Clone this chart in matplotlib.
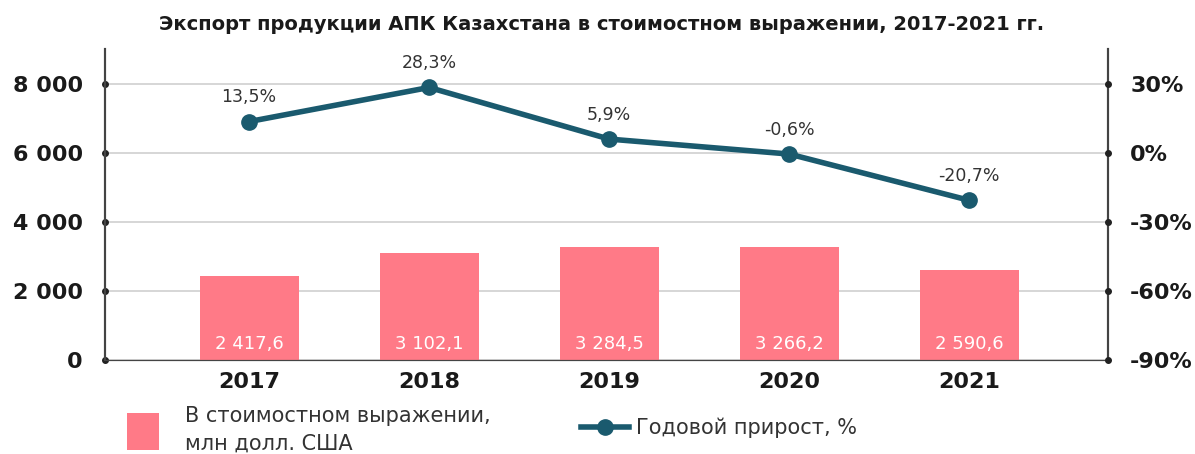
import matplotlib
matplotlib.use("Agg")
import matplotlib.pyplot as plt
from matplotlib.lines import Line2D
from matplotlib.patches import Patch

years = ["2017", "2018", "2019", "2020", "2021"]
export_values = [2417.6, 3102.1, 3284.5, 3266.2, 2590.6]
growth_pct = [13.5, 28.3, 5.9, -0.6, -20.7]
left_ticks = [0, 2000, 4000, 6000, 8000]
left_tick_labels = ["0", "2 000", "4 000", "6 000", "8 000"]
right_ticks = [-90, -60, -30, 0, 30]
right_tick_labels = ["-90%", "-60%", "-30%", "0%", "30%"]

BAR_C = "#FF7A87"
LINE_C = "#1A5A6E"
FONT = ["DejaVu Sans"]
plt.rcParams["font.family"] = FONT

def fmt_val(v):
    s = f"{v:,.1f}".replace(",", " ").replace(".", ",")
    return s

fig = plt.figure(figsize=(11.95, 4.54), dpi=100)
ax = fig.add_axes([105/1195, 94/454, (1108-105)/1195, (360-49)/454])
ax2 = ax.twinx()

x = list(range(len(years)))
bars = ax.bar(x, export_values, width=0.55, color=BAR_C, zorder=2)
ax.set_ylim(0, 9000)
ax.set_xlim(-0.8, 4.77)
ax.set_yticks(left_ticks)
ax.set_yticklabels(left_tick_labels, fontsize=16, fontweight="bold", color="#1a1a1a")
ax.set_xticks(x)
ax.set_xticklabels(years, fontsize=16, fontweight="bold", color="#1a1a1a")
ax.tick_params(axis="x", length=0, pad=9)
ax.tick_params(axis="y", length=0, pad=16)
for t in left_ticks:
    ax.axhline(t, color="#d0d0d0", lw=1.2, zorder=0)
ax.plot([-0.8]*len(left_ticks), left_ticks, "o", ms=4, color="#222", clip_on=False, zorder=5)

for i, v in enumerate(export_values):
    ax.text(i, 470, fmt_val(v), ha="center", va="center", color="white", fontsize=13)

for sp in ["top"]:
    ax.spines[sp].set_visible(False)
    ax2.spines[sp].set_visible(False)
for a in (ax, ax2):
    a.spines["left"].set_color("#444")
    a.spines["right"].set_color("#444")
    a.spines["bottom"].set_color("#444")
    a.spines["left"].set_linewidth(1.5)
    a.spines["right"].set_linewidth(1.5)

ax2.set_ylim(-90, 45)
ax2.set_yticks(right_ticks)
ax2.set_yticklabels(right_tick_labels, fontsize=16, fontweight="bold", color="#1a1a1a")
ax2.tick_params(axis="y", length=0, pad=16)
ax2.plot([4.77]*len(right_ticks), right_ticks, "o", ms=4, color="#222", clip_on=False, zorder=5)
ax2.plot(x, growth_pct, "-o", color=LINE_C, lw=4, ms=11, zorder=4)
for i, g in enumerate(growth_pct):
    lab = f"{g:.1f}%".replace(".", ",")
    ax2.annotate(lab, (i, g), xytext=(0, 11), textcoords="offset points",
                 ha="center", va="bottom", fontsize=12.5, color="#333")

fig.text(0.503, 1 - 25/454, "Экспорт продукции АПК Казахстана в стоимостном выражении, 2017-2021 гг.",
         ha="center", va="center", fontsize=14, fontweight="bold", color="#1a1a1a")

h1 = Patch(facecolor=BAR_C, edgecolor="none")
h2 = Line2D([0], [0], color=LINE_C, lw=4, marker="o", ms=11)
leg1 = fig.legend([h1], ["В стоимостном выражении,\nмлн долл. США"],
                  loc="center left", bbox_to_anchor=(119/1195, (454-430)/454), frameon=False,
                  fontsize=15, handlelength=1.5, handleheight=2.3,
                  handletextpad=1.25, labelcolor="#333", borderaxespad=0)
for t in leg1.get_texts():
    t.set_linespacing(1.45)
fig.legend([h2], ["Годовой прирост, %"],
           loc="center left", bbox_to_anchor=(573/1195, (454-428)/454), frameon=False,
           fontsize=15, handlelength=2.3, handletextpad=0.3, labelcolor="#333", borderaxespad=0)

fig.savefig("out.png", dpi=100)
